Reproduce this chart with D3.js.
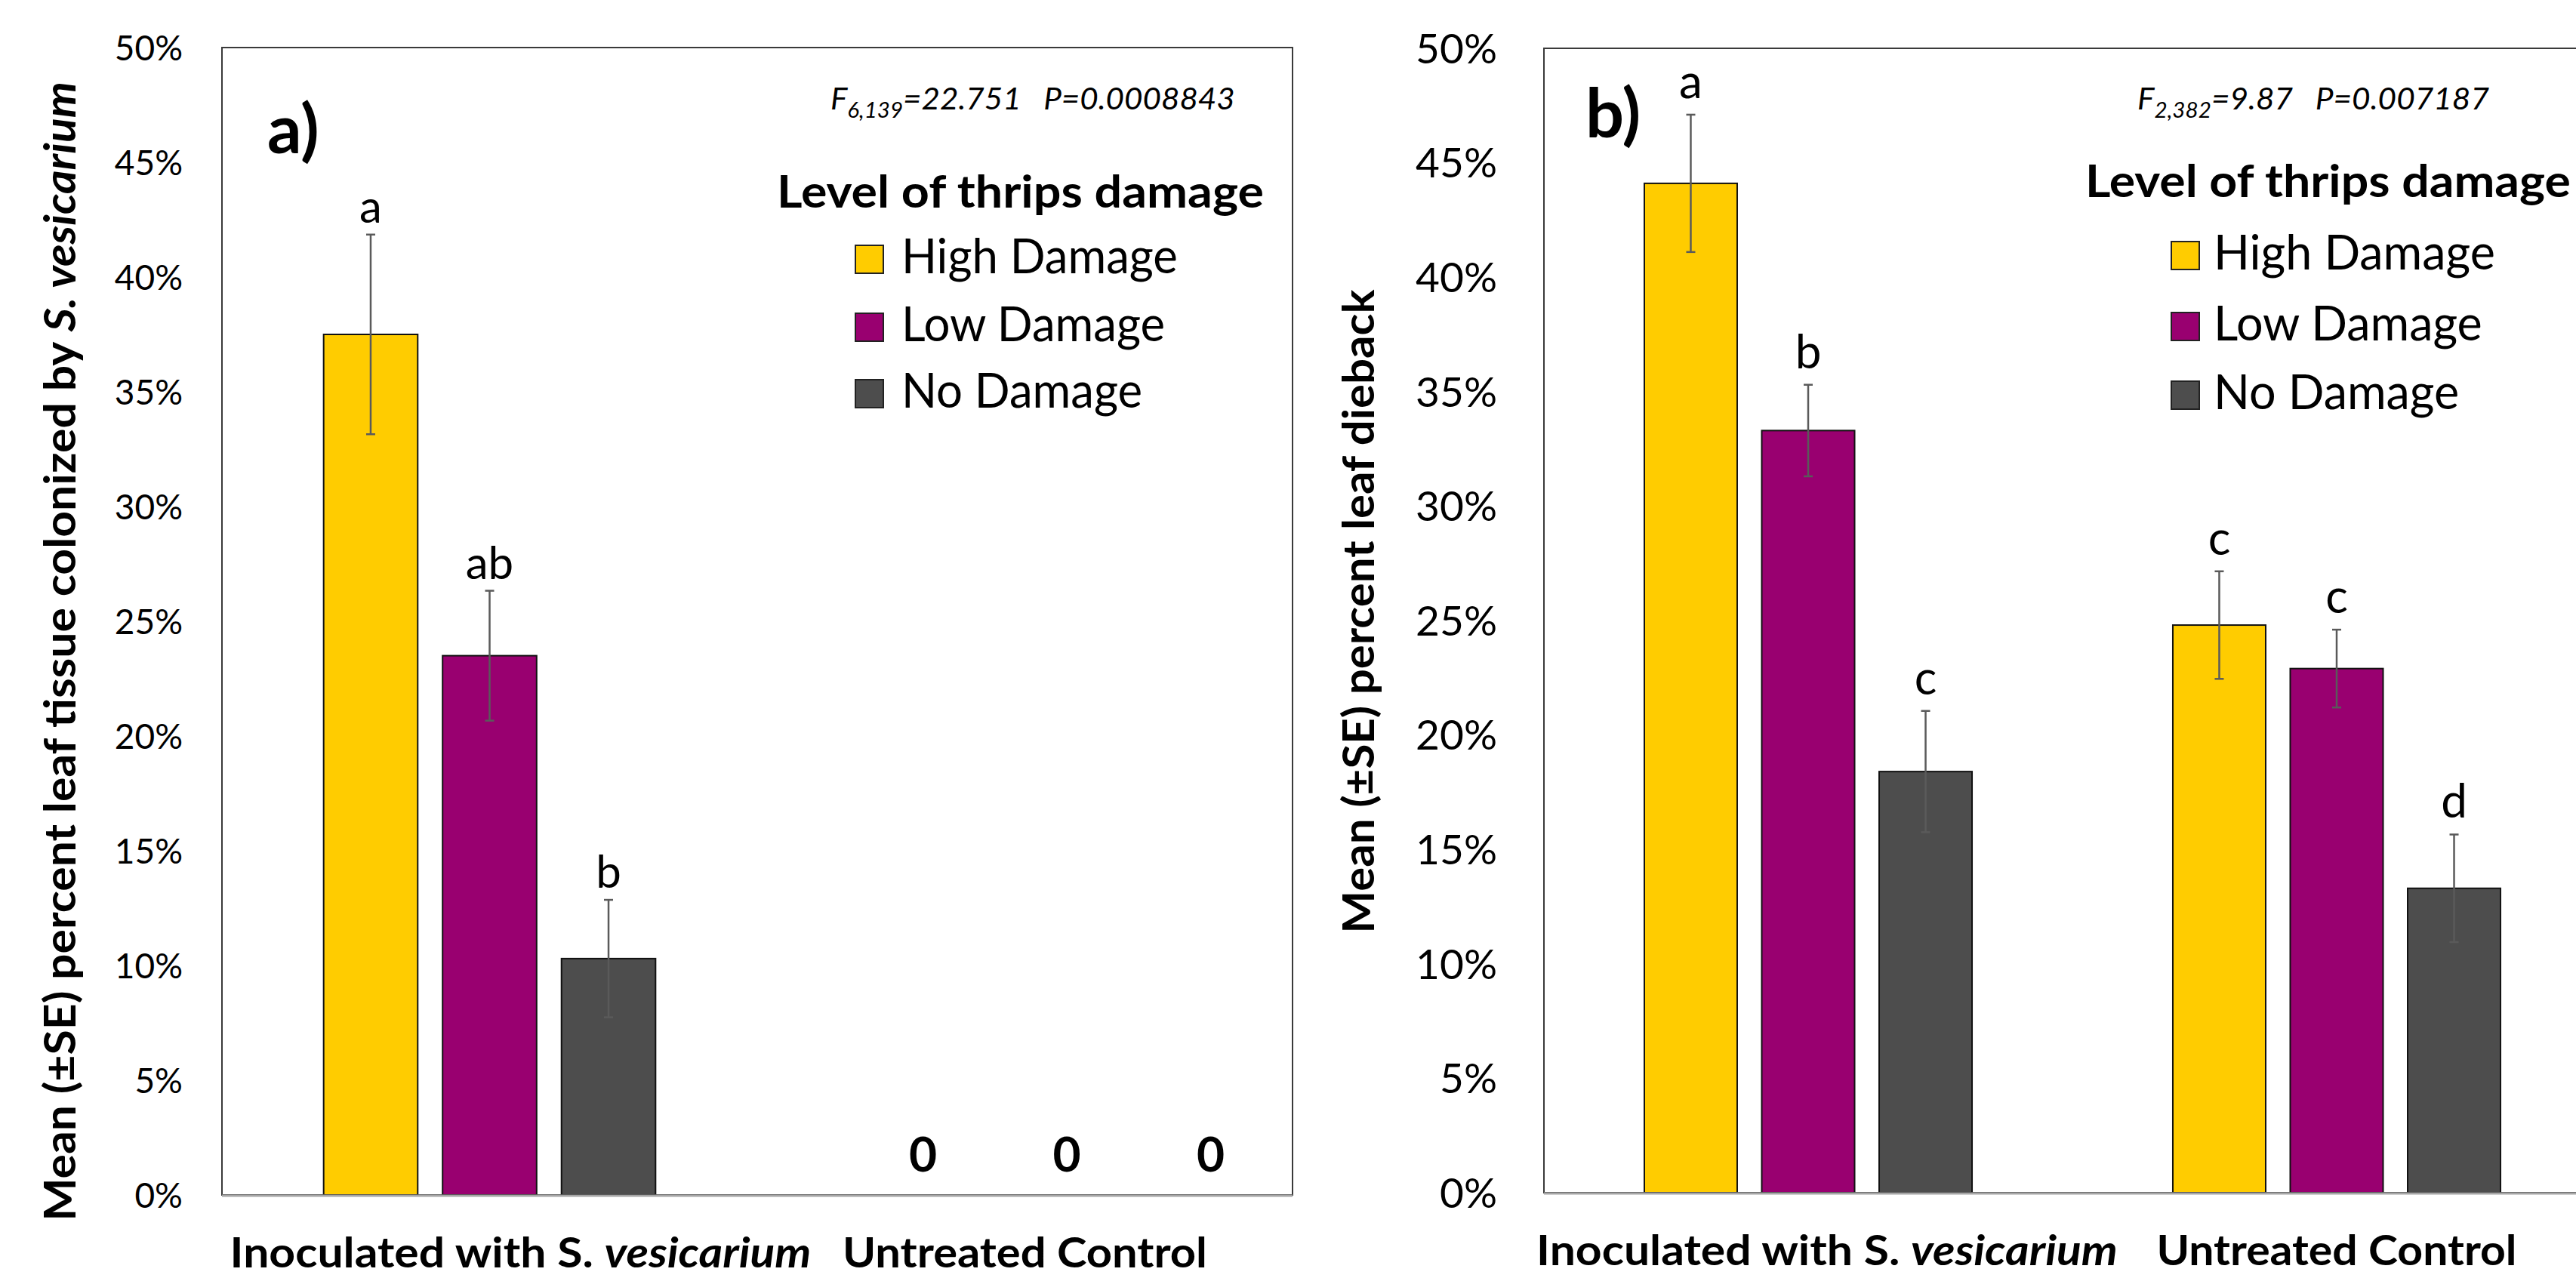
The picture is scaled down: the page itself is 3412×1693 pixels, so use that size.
<!DOCTYPE html>
<html><head><meta charset="utf-8">
<script src="https://cdn.jsdelivr.net/npm/d3@7"></script>
<style>
body{margin:0;background:#fff}
svg{display:block}
text{font-family:Lato,"Open Sans","DejaVu Sans",sans-serif;fill:#000;white-space:pre}
</style>
</head><body>
<svg id="chart" width="3412" height="1693" xmlns="http://www.w3.org/2000/svg"></svg>
<script>
// ---------------- data ----------------
const categories = ["Inoculated with S. vesicarium", "Untreated Control"];
const series = ["High Damage", "Low Damage", "No Damage"];
const seriesColors = ["#FFCC00", "#990070", "#4D4D4D"];
const yTicks = [0, 5, 10, 15, 20, 25, 30, 35, 40, 45, 50];
const legendTitle = "Level of thrips damage";

// panel a: % leaf tissue colonized
const colonizedMean = [[37.5, 23.5, 10.3], [0, 0, 0]];
const colonizedSE = [[4.35, 2.83, 2.56], [0, 0, 0]];
const colonizedLetters = [["a", "ab", "b"], ["", "", ""]];
const colonizedStats = { df: "6,139", text: "=22.751   P=0.0008843" };

// panel b: % leaf dieback
const diebackMean = [[44.1, 33.3, 18.4], [24.8, 22.9, 13.3]];
const diebackSE = [[3.0, 2.0, 2.65], [2.35, 1.7, 2.35]];
const diebackLetters = [["a", "b", "c"], ["c", "c", "d"]];
const diebackStats = { df: "2,382", text: "=9.87   P=0.007187" };

// ---------------- helpers ----------------
const svg = d3.select("#chart");
svg.append("rect").attr("width", 3412).attr("height", 1693).attr("fill", "#fff");

function addText(parent, o) {
  const g = parent.append("g").attr("transform", `translate(${o.x},${o.y}) rotate(${o.rotate || 0})`);
  const t = g.append("text")
    .attr("xml:space", "preserve")
    .attr("text-anchor", o.anchor || "start")
    .style("font-size", o.size + "px")
    .style("font-weight", o.weight || "normal")
    .style("font-style", o.italic ? "italic" : "normal");
  o.parts.forEach(p => {
    const s = t.append("tspan").text(p.t);
    if (p.i) s.style("font-style", "italic");
    if (p.size) s.style("font-size", p.size + "px");
    if (p.dy) s.attr("dy", p.dy);
  });
  if (o.width) {
    const w = t.node().getComputedTextLength();
    if (w > 0) t.attr("transform", `scale(${o.width / w},1)`);
  }
  return t;
}

function catParts(c) {
  if (c.includes("S. vesicarium")) return [{ t: c.replace("vesicarium", "") }, { t: "vesicarium", i: true }];
  return [{ t: c }];
}

// ---------------- panels ----------------
const panels = [
  {
    mean: colonizedMean, se: colonizedSE, letters: colonizedLetters, stats: colonizedStats,
    yTitle: [{ t: "Mean (±SE) percent leaf tissue colonized by " }, { t: "S. vesicarium", i: true }],
    label: "a)",
    L: { left: 294, right: 1712, top: 63, bottom: 1583, tickRight: 242, tickSize: 46,
         letterSize: 60, letterGap: 16, yTitleX: 100, yTitleY: 863, yTitleW: 1510,
         labelX: 354, labelY: 203, statsX: 1100, statsY: 145, statsW: 536,
         legX: 1029, legY: 275, legW: 645, sqX: 1133, txtX: 1194, rowY: [362, 452, 540], itemW: 366,
         xLabY: 1679, xLabW: [770, 483], xLabDx: [41, 0], zeroShow: true }
  },
  {
    mean: diebackMean, se: diebackSE, letters: diebackLetters, stats: diebackStats,
    yTitle: [{ t: "Mean (±SE) percent leaf dieback" }],
    label: "b)",
    L: { left: 2045, right: 3445, top: 64, bottom: 1580, tickRight: 1983, tickSize: 55,
         letterSize: 62, letterGap: 22, yTitleX: 1820, yTitleY: 810, yTitleW: 853,
         labelX: 2100, labelY: 182, statsX: 2831, statsY: 145, statsW: 466,
         legX: 2762, legY: 261, legW: 643, sqX: 2876, txtX: 2932, rowY: [357, 451, 542], itemW: 373,
         xLabY: 1676, xLabW: [770, 477], xLabDx: [25, 0], zeroShow: false }
  }
];

panels.forEach(P => {
  const L = P.L;
  const g = svg.append("g");
  const x0 = d3.scaleBand().domain(categories).range([L.left, L.right]).padding(0);
  const x1 = d3.scaleBand().domain(series).range([0, x0.bandwidth()]).paddingInner(0.209).paddingOuter(0.855);
  const y = d3.scaleLinear().domain([0, 50]).range([L.bottom, L.top]);
  const color = d3.scaleOrdinal().domain(series).range(seriesColors);

  // plot frame
  g.append("rect").attr("x", L.left).attr("y", L.top)
    .attr("width", L.right - L.left).attr("height", L.bottom - L.top)
    .attr("fill", "none").attr("stroke", "#3a3a3a").attr("stroke-width", 2);

  // y axis tick labels
  const yAxis = d3.axisLeft(y).tickValues(yTicks).tickSize(0).tickPadding(0).tickFormat(d => d + "%");
  const ya = g.append("g").attr("transform", `translate(${L.tickRight},0)`).call(yAxis);
  ya.select(".domain").remove();
  ya.selectAll("text").attr("font-family", null).style("font-size", L.tickSize + "px")
    .attr("dy", "0.35em").attr("x", 0).attr("fill", "#000");

  // bars
  const rows = [];
  categories.forEach((c, ci) => series.forEach((s, si) => rows.push({
    cat: c, ser: s, v: P.mean[ci][si], se: P.se[ci][si], letter: P.letters[ci][si]
  })));

  const bars = g.append("g").selectAll("g").data(rows).join("g")
    .attr("transform", d => `translate(${x0(d.cat) + x1(d.ser)},0)`);
  bars.filter(d => d.v > 0).append("rect")
    .attr("x", 0).attr("width", x1.bandwidth())
    .attr("y", d => y(d.v)).attr("height", d => y(0) - y(d.v))
    .attr("fill", d => color(d.ser)).attr("stroke", "#111").attr("stroke-width", 2);

  // error bars
  const eb = bars.filter(d => d.se > 0).append("g").attr("stroke", "#5a5a5a").attr("stroke-width", 2.5);
  const cx = x1.bandwidth() / 2;
  eb.append("line").attr("x1", cx).attr("x2", cx).attr("y1", d => y(d.v + d.se)).attr("y2", d => y(d.v - d.se));
  eb.append("line").attr("x1", cx - 6).attr("x2", cx + 6).attr("y1", d => y(d.v + d.se)).attr("y2", d => y(d.v + d.se));
  eb.append("line").attr("x1", cx - 6).attr("x2", cx + 6).attr("y1", d => y(d.v - d.se)).attr("y2", d => y(d.v - d.se));

  // significance letters
  bars.filter(d => d.letter).append("text")
    .attr("x", cx).attr("y", d => y(d.v + d.se) - L.letterGap)
    .attr("text-anchor", "middle").style("font-size", L.letterSize + "px")
    .text(d => d.letter);

  // zero value labels
  if (L.zeroShow) {
    const zeroRows = rows.filter(d => d.v === 0);
    zeroRows.forEach(d => {
      const c = x0(d.cat) + x0.bandwidth() / 2;
      const zx = d3.scalePoint().domain(series).range([c - 135, c + 246]);
      g.append("text").attr("x", zx(d.ser)).attr("y", y(0) - 31)
        .attr("text-anchor", "middle").style("font-size", "64px").style("font-weight", "bold")
        .text(d3.format("d")(d.v));
    });
  }

  // bottom axis line
  g.append("line").attr("x1", L.left).attr("x2", L.right).attr("y1", y(0) + 1).attr("y2", y(0) + 1)
    .attr("stroke", "#a6a6a6").attr("stroke-width", 3);

  // category labels
  categories.forEach((c, ci) => {
    addText(g, { x: x0(c) + x0.bandwidth() / 2 + L.xLabDx[ci], y: L.xLabY, anchor: "middle",
      size: 56, weight: "bold", parts: catParts(c), width: L.xLabW[ci] });
  });

  // y title
  addText(g, { x: L.yTitleX, y: L.yTitleY, rotate: -90, anchor: "middle", size: 58, weight: "bold",
    parts: P.yTitle, width: L.yTitleW });

  // panel label
  addText(g, { x: L.labelX, y: L.labelY, size: 90, weight: "bold", parts: [{ t: P.label }] });

  // stats
  addText(g, { x: L.statsX, y: L.statsY, size: 40, italic: true, width: L.statsW,
    parts: [{ t: "F" }, { t: P.stats.df, size: 28, dy: 11 }, { t: P.stats.text, dy: -11 }] });

  // legend
  addText(g, { x: L.legX, y: L.legY, size: 59, weight: "bold", parts: [{ t: legendTitle }], width: L.legW });
  const leg = g.append("g").selectAll("g").data(series).join("g")
    .attr("transform", (d, i) => `translate(0,${L.rowY[i]})`);
  leg.append("rect").attr("x", L.sqX).attr("y", -37).attr("width", 37).attr("height", 37)
    .attr("fill", d => color(d)).attr("stroke", "#222").attr("stroke-width", 2);
  let fscale = null;
  leg.each(function (d, i) {
    const t = d3.select(this).append("text").attr("x", L.txtX).attr("y", 0)
      .style("font-size", "63px").text(d);
    if (i === 0) fscale = L.itemW / t.node().getComputedTextLength();
  });
  leg.selectAll("text").attr("transform", `translate(${L.txtX},0) scale(${fscale},1) translate(${-L.txtX},0)`);
});
</script>
</body></html>
